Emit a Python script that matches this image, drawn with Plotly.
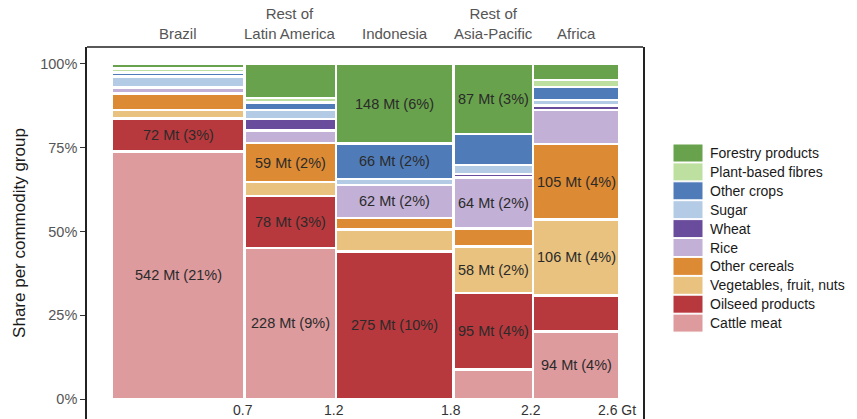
import numpy as np
import plotly.graph_objects as go

# Regions (columns) and their widths along the x axis (Gt)
regions = ["Brazil", "Rest of Latin America", "Indonesia", "Rest of Asia-Pacific", "Africa"]
region_labels = ["Brazil", "Rest of<br>Latin America", "Indonesia", "Rest of<br>Asia-Pacific", "Africa"]
region_width_gt = [0.68, 0.47, 0.60, 0.41, 0.44]
x_tick_labels = ["0.7", "1.2", "1.8", "2.2", "2.6 Gt"]

# Commodity groups, bottom of the stack first
commodities = ["Cattle meat", "Oilseed products", "Vegetables, fruit, nuts", "Other cereals",
               "Rice", "Wheat", "Sugar", "Other crops", "Plant-based fibres", "Forestry products"]
colors = ["#dd9b9e", "#b8393d", "#e9c27f", "#dd8a34", "#c2b0d6",
          "#6a4c9c", "#b3cbe4", "#4f7cb9", "#bddf9f", "#68a24c"]

# Mt per region (Brazil, Rest of Latin America, Indonesia, Rest of Asia-Pacific, Africa)
cattle_meat = [542, 228, 0, 37, 94]
oilseed_products = [72, 78, 275, 95, 50]
vegetables_fruit_nuts = [18, 21, 41, 58, 106]
other_cereals = [36, 59, 21, 22, 105]
rice = [14, 19, 62, 64, 47]
wheat = [1, 17, 0, 4, 6]
sugar = [23, 14, 11, 11, 8]
other_crops = [8, 11, 66, 39, 18]
plant_based_fibres = [9, 7, 0, 0, 10]
forestry_products = [10, 51, 148, 87, 22]

# Share of the global total printed next to labelled segments (None = no label)
pct_cattle_meat = [21, 9, None, None, 4]
pct_oilseed_products = [3, 3, 10, 4, None]
pct_vegetables_fruit_nuts = [None, None, None, 2, 4]
pct_other_cereals = [None, 2, None, None, 4]
pct_rice = [None, None, 2, 2, None]
pct_wheat = [None] * 5
pct_sugar = [None] * 5
pct_other_crops = [None, None, 2, None, None]
pct_plant_based_fibres = [None] * 5
pct_forestry_products = [None, None, 6, 3, None]

values = [cattle_meat, oilseed_products, vegetables_fruit_nuts, other_cereals, rice,
          wheat, sugar, other_crops, plant_based_fibres, forestry_products]
pcts = [pct_cattle_meat, pct_oilseed_products, pct_vegetables_fruit_nuts, pct_other_cereals,
        pct_rice, pct_wheat, pct_sugar, pct_other_crops, pct_plant_based_fibres,
        pct_forestry_products]

vals = np.array(values, dtype=float)
shares = vals / vals.sum(axis=0)
widths = np.array(region_width_gt)
right_edges = np.cumsum(widths)
centers = right_edges - widths / 2

FONT = "Liberation Sans, Arial, sans-serif"

fig = go.Figure()
for name, color, share in zip(commodities, colors, shares):
    fig.add_trace(go.Bar(
        x=centers, y=share, width=widths, name=name,
        marker=dict(color=color, line=dict(color="white", width=2.5)),
        showlegend=False, hoverinfo="name+y",
    ))

annotations = []
# Segment labels
bases = np.vstack([np.zeros(len(regions)), np.cumsum(shares, axis=0)[:-1]])
for ci in range(len(commodities)):
    for ri in range(len(regions)):
        p = pcts[ci][ri]
        if p is None:
            continue
        annotations.append(dict(
            x=centers[ri], y=bases[ci, ri] + shares[ci, ri] / 2, xref="x", yref="y",
            text=f"{values[ci][ri]:g} Mt ({p}%)", showarrow=False,
            font=dict(family=FONT, size=14.5, color="#2a2a2a"),
        ))

# Region names above the panel
for c, lab in zip(centers, region_labels):
    annotations.append(dict(
        x=c, y=1, xref="x", yref="paper", yanchor="bottom", yshift=3,
        text=lab, showarrow=False, font=dict(family=FONT, size=15, color="#555555"),
    ))

# Cumulative size labels under the columns
for xe, lab in zip(right_edges, x_tick_labels):
    annotations.append(dict(
        x=xe, y=0, xref="x", yref="y", yanchor="top", xshift=-2, yshift=-1,
        text=lab, showarrow=False, font=dict(family=FONT, size=14, color="#333333"),
    ))

# Legend drawn as colour keys
shapes = []
plot_left, plot_w, fig_h = 87, 556, 372
def px_x(px):
    return (px - plot_left) / plot_w
def px_y(py):
    return (fig_h + 47 - py) / fig_h

legend_top_center = 153
legend_step = 18.9
for i, (name, color) in enumerate(zip(commodities[::-1], colors[::-1])):
    cy = legend_top_center + i * legend_step
    shapes.append(dict(type="rect", xref="paper", yref="paper",
                       x0=px_x(673), x1=px_x(703), y0=px_y(cy + 9), y1=px_y(cy - 9),
                       fillcolor=color, line=dict(color="white", width=1)))
    annotations.append(dict(x=px_x(708), y=px_y(cy), xref="paper", yref="paper",
                            xanchor="left", yanchor="middle", text=name, showarrow=False,
                            font=dict(family=FONT, size=14, color="#1a1a1a")))

# Top edge of the panel frame
shapes.append(dict(type="line", xref="paper", yref="paper", x0=0, x1=1, y0=1, y1=1,
                   line=dict(color="#222222", width=1.6)))

fig.update_layout(
    barmode="stack",
    width=857, height=419,
    margin=dict(l=87, r=214, t=47, b=0),
    paper_bgcolor="white", plot_bgcolor="white",
    font=dict(family=FONT),
    xaxis=dict(range=[-0.128, 2.723], visible=False, showgrid=False, zeroline=False),
    yaxis=dict(range=[-0.0597, 1.0507], tickvals=[0, 0.25, 0.5, 0.75, 1.0],
               ticktext=["0%", "25%", "50%", "75%", "100%"],
               ticks="outside", ticklen=5, tickwidth=1.2, tickcolor="#333333",
               showline=True, mirror=True, linecolor="#222222", linewidth=1.6,
               showgrid=False, zeroline=False,
               tickfont=dict(family=FONT, size=14.5, color="#555555"),
               title=dict(text="Share per commodity group", standoff=10,
                          font=dict(family=FONT, size=17, color="#1a1a1a"))),
    annotations=annotations,
    shapes=shapes,
)

fig.write_html("out.html")
